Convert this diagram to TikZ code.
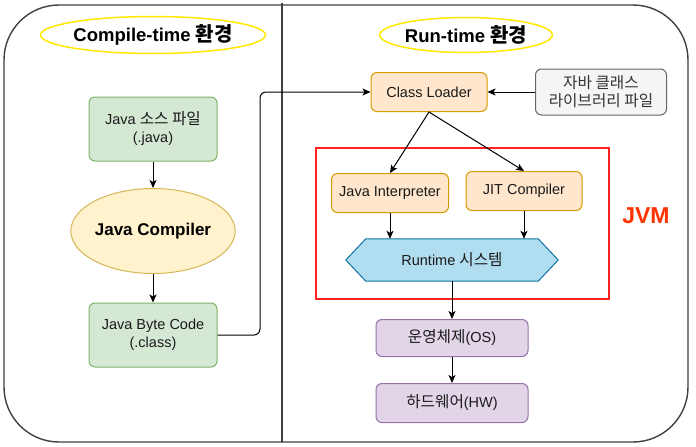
\documentclass[tikz,border=0pt]{standalone}
\usepackage{fontspec}
\setmainfont{Liberation Sans}
\newfontfamily\kr[Scale=1.08]{Noto Sans CJK KR}
\usetikzlibrary{arrows.meta,backgrounds,shapes.geometric}
\definecolor{gfill}{HTML}{D5E8D4}\definecolor{gline}{HTML}{82B366}
\definecolor{yfill}{HTML}{FFF2CC}\definecolor{yline}{HTML}{D6B656}
\definecolor{ofill}{HTML}{FFE6CC}\definecolor{oline}{HTML}{D79B00}
\definecolor{grfill}{HTML}{F5F5F5}\definecolor{grline}{HTML}{666666}\definecolor{grtext}{HTML}{333333}
\definecolor{bfill}{HTML}{B1DDF0}\definecolor{bline}{HTML}{10739E}
\definecolor{pfill}{HTML}{E1D5E7}\definecolor{pline}{HTML}{9673A6}
\definecolor{jvmred}{HTML}{FF2020}\definecolor{jvmtxt}{HTML}{FF3300}
\definecolor{ttl}{HTML}{FFE800}\definecolor{frm}{HTML}{404040}
\definecolor{txt}{HTML}{1A1A1A}
\newcommand\boxfont{\fontsize{14.5}{18}\selectfont}
\newcommand\boldfont{\fontsize{17}{20}\selectfont\bfseries}
\newcommand\titlefont{\fontsize{18.5}{21}\selectfont\bfseries}
\newcommand\jvmfont{\fontsize{23}{26}\selectfont\bfseries}
\tikzset{
  box/.style={rounded corners=6pt, line width=1pt, align=center, inner sep=0pt, font=\boxfont, text=txt},
  greenbox/.style={box, fill=gfill, draw=gline, minimum width=128pt, minimum height=64pt},
  orangebox/.style={box, fill=ofill, draw=oline, minimum height=39pt},
  purplebox/.style={box, fill=pfill, draw=pline, minimum width=152pt},
  title/.style={ellipse, draw=ttl, fill=white, line width=1.5pt, inner sep=0pt, font=\titlefont, text=black},
  arr/.style={draw=black, line width=1pt, -{Stealth[length=8pt,width=7pt,inset=2pt]}},
  frame/.style={draw=frm, line width=1.4pt}
}
\begin{document}
\begin{tikzpicture}[x=1pt,y=-1pt]
\useasboundingbox (0,0) rectangle (696,447);
\begin{scope}[on background layer]
\fill[white] (0,0) rectangle (696,447);
\end{scope}
% frame
\draw[frame, rounded corners=55pt] (4,5) rectangle (688,442);
\draw[frame] (282,3) -- (282,442);
% titles
\node[title, minimum width=180pt, minimum height=37pt] (ct) at (153,35) {Compile-time {\kr 환경}};
\node[title, minimum width=137pt, minimum height=35pt] (rtt) at (466,35) {Run-time {\kr 환경}};
% compile side
\node[greenbox] (src) at (153,129) {Java {\kr 소스 파일}\\(.java)};
\node[ellipse, draw=yline, fill=yfill, line width=1pt, minimum width=128pt, minimum height=85pt, inner sep=0pt, font=\boldfont, text=black] (jc) at (153,231) {Java Compiler};
\node[greenbox] (bc) at (153,335) {Java Byte Code\\(.class)};
% runtime side
\node[orangebox, minimum width=116pt] (cl) at (429,92) {Class Loader};
\node[box, fill=grfill, draw=grline, text=grtext, minimum width=131pt, minimum height=46pt] (lib) at (601,92) {{\kr 자바 클래스}\\{\kr 라이브러리 파일}};
\node[draw=jvmred, line width=2pt, minimum width=293pt, minimum height=151pt, inner sep=0pt] (jvm) at (462.5,223.5) {};
\node[font=\jvmfont, text=jvmtxt] (jvml) at (646,216) {JVM};
\node[orangebox, minimum width=117pt] (ji) at (390,193) {Java Interpreter};
\node[orangebox, minimum width=116pt] (jit) at (524,191) {JIT Compiler};
\node[minimum width=212pt, minimum height=42pt, inner sep=0pt, font=\boxfont, text=txt] (rt) at (452,260) {Runtime {\kr 시스템}};
\begin{scope}[on background layer]
\draw[fill=bfill, draw=bline, line width=1pt] ([xshift=20pt]rt.north west) -- ([xshift=-20pt]rt.north east) -- (rt.east) -- ([xshift=-20pt]rt.south east) -- ([xshift=20pt]rt.south west) -- (rt.west) -- cycle;
\end{scope}
\node[purplebox, minimum height=37pt] (os) at (452,338) {{\kr 운영체제}(OS)};
\node[purplebox, minimum height=39pt] (hw) at (452,403) {{\kr 하드웨어}(HW)};
% connectors
\coordinate (bend) at (260,92);
\draw[arr] (src) -- (jc);
\draw[arr] (jc) -- (bc);
\draw[arr, rounded corners=6pt] (bc.east) -| (bend) -- (cl.west);
\draw[arr] (lib) -- (cl);
\draw[arr] (cl.south) -- (ji.north);
\draw[arr] (cl.south) -- (jit.north);
\draw[arr] (ji.south) -- (ji.south |- rt.north);
\draw[arr] (jit.south) -- (jit.south |- rt.north);
\draw[arr] (rt.south) -- (os.north);
\draw[arr] (os) -- (hw);
\end{tikzpicture}
\end{document}
